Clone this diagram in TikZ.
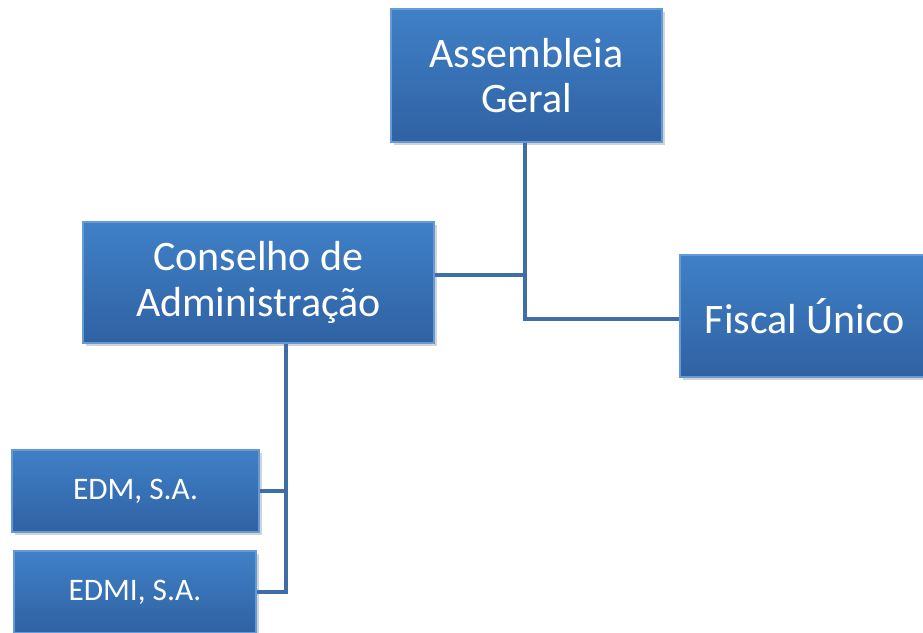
\documentclass[tikz,border=0pt]{standalone}
\usepackage{fontspec}
\setmainfont{Carlito}
\usepackage{xcolor}
\usepackage{tikz}
\usetikzlibrary{shadows, positioning}
\definecolor{boxtop}{RGB}{64,128,199}
\definecolor{boxbot}{RGB}{47,98,163}
\definecolor{boxedge}{RGB}{100,155,215}
\definecolor{linkblue}{RGB}{63,109,166}
\tikzstyle{unit} = [rectangle, draw=boxedge, line width=0.8pt, top color=boxtop, bottom color=boxbot, text=white, align=center, inner sep=0pt, drop shadow={opacity=0.35, shadow xshift=2pt, shadow yshift=-2pt}]
\tikzstyle{big} = [unit, font=\fontsize{31.5}{34}\selectfont]
\tikzstyle{small} = [unit, font=\fontsize{23.5}{26}\selectfont]
\tikzstyle{link} = [line width=3pt, draw=linkblue]

\begin{document}
\begin{tikzpicture}[x=0.75pt, y=-0.75pt]
                % page frame, in pixels of the reference
                \useasboundingbox (0,0) rectangle (923,632);
                \node[big, minimum width=203.25pt, minimum height=99.75pt] (ag) at (526.5,75.5) {Assembleia\\Geral};
                \node[big, minimum width=263.25pt, minimum height=90.75pt] (ca) at (258.5,282.5) {Conselho de\\Administração};
                \node[big, minimum width=187.5pt, minimum height=91.5pt] (fu) at (805,316) {Fiscal Único};
                \node[small, minimum width=185.25pt, minimum height=61.5pt] (edm) at (135.5,491) {EDM, S.A.};
                \node[small, minimum width=181.5pt, minimum height=61.5pt] (edmi) at (135,592) {EDMI, S.A.};
                \coordinate (join) at (525,275);
                \coordinate (split) at (286,0);
                \draw[link] (ag.south -| join) |- (fu.west |- 0,319);
                \draw[link] (ca.east |- join) -- (join);
                \draw[link] (ca.south -| split) |- (edmi.east);
                \draw[link] (edm.east) -- (edm.east -| split);
            \end{tikzpicture}
\end{document}
